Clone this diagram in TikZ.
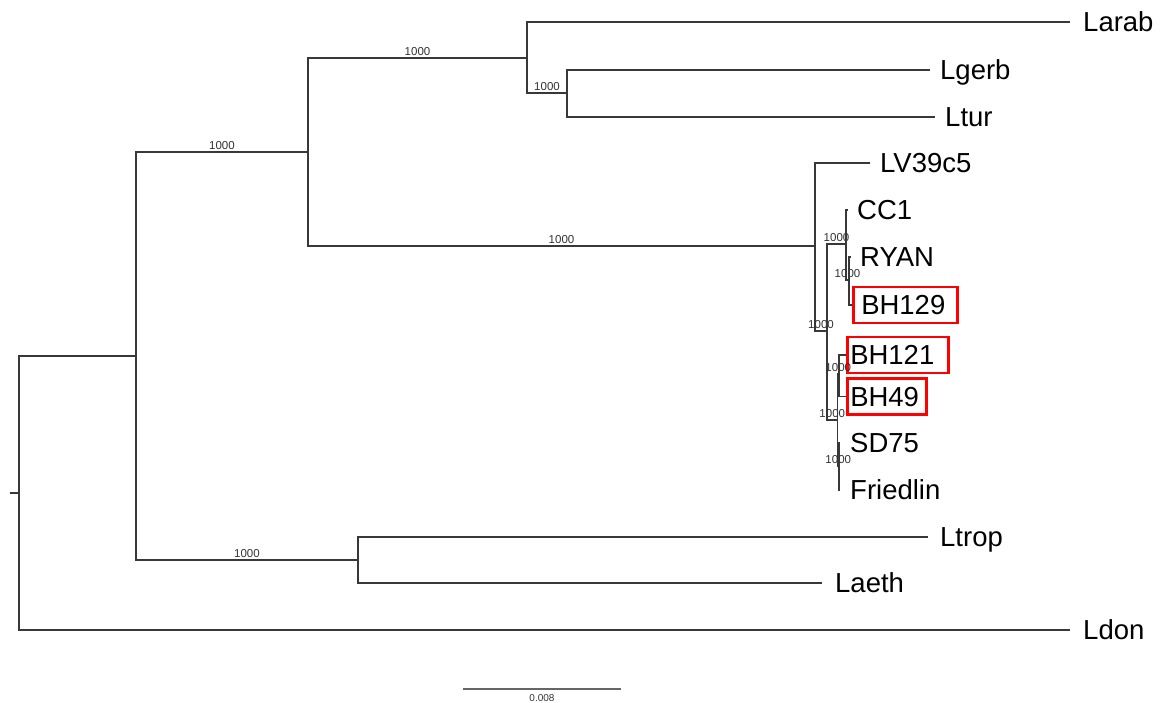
\documentclass[tikz,border=0pt]{standalone}
\usepackage{fontspec}
\setmainfont{Liberation Sans}
\usepackage{xcolor}
\usetikzlibrary{positioning}

\begin{document}
\begin{tikzpicture}[
  x=1pt, y=-1pt,
  br/.style={draw=black!78, line width=1.5pt},
  tip/.style={anchor=west, inner xsep=10pt, inner ysep=3pt,
              text height=19.6pt, text depth=0pt,
              font=\fontsize{27.5}{30}\selectfont},
  hit/.style={tip, draw=red, line width=2.5pt, inner xsep=3pt,
              inner ysep=8pt, align=left},
  boot/.style={above, inner sep=1.5pt, text=black!80,
               font=\fontsize{11.5}{12}\selectfont},
]
\useasboundingbox (0,0) rectangle (1165,702);

% ---------------- internal nodes ----------------
\coordinate (root) at (10,493);
\coordinate (nA) at (19,493);
\coordinate (nB) at (136,356);
\coordinate (nC) at (308,152);
\coordinate (nD) at (527,58);
\coordinate (nE) at (567,93);
\coordinate (nF) at (815,246);
\coordinate (nG) at (827,331);
\coordinate (nH) at (846,244);
\coordinate (nJ) at (849,280);
\coordinate (nI) at (837.5,420);
\coordinate (nL) at (839,374);
\coordinate (nM) at (839,466);
\coordinate (nN) at (358,560);

% ---------------- tips ----------------
\node[tip, inner xsep=13pt] (larab) at (1070,22) {Larab};
\node[tip] (lgerb) at (930,70) {Lgerb};
\node[tip] (ltur) at (935,117) {Ltur};
\node[tip] (lv39) at (870,163) {LV39c5};
\node[tip, inner xsep=9pt] (cc1) at (848,210) {CC1};
\node[tip, inner xsep=9pt] (ryan) at (851,257) {RYAN};
\node[hit, inner xsep=8pt, text width=88pt] (bh129) at (852,305) {BH129};
\node[hit, text width=95pt] (bh121) at (846,355) {BH121};
\node[hit, text width=73pt] (bh49) at (846,396.5) {BH49};
\node[tip] (sd75) at (840,443) {SD75};
\node[tip] (friedlin) at (840,490) {Friedlin};
\node[tip, inner xsep=12pt] (ltrop) at (928,537) {Ltrop};
\node[tip, inner xsep=13pt] (laeth) at (822,583) {Laeth};
\node[tip, inner xsep=13pt] (ldon) at (1070,630) {Ldon};

% ---------------- branches ----------------
\draw[br] (root) -- (nA);
\draw[br] (nA) |- (nB);
\draw[br] (nA) |- (ldon);
\draw[br] (nB) |- node[boot, pos=0.75] {1000} (nC);
\draw[br] (nB) |- node[boot, pos=0.75] {1000} (nN);
\draw[br] (nC) |- node[boot, pos=0.75] {1000} (nD);
\draw[br] (nC) |- node[boot, pos=0.75] {1000} (nF);
\draw[br] (nD) |- (larab);
\draw[br] (nD) |- node[boot, pos=0.75] {1000} (nE);
\draw[br] (nE) |- (lgerb);
\draw[br] (nE) |- (ltur);
\draw[br] (nN) |- (ltrop);
\draw[br] (nN) |- (laeth);

% dense clade
\draw[br] (nF) |- (lv39);
\draw[br] (nF) |- node[boot, pos=0.75] {1000} (nG);
\draw[br] (nG) |- node[boot, pos=0.75] {1000} (nH);
\draw[br] (nG) |- node[boot, pos=0.75] {1000} (nI);
\draw[br] (nH) |- (cc1);
\draw[br] (nH) |- node[boot, pos=0.75] {1000} (nJ);
\draw[br] (nJ) |- (ryan);
\draw[br] (nJ) |- (bh129.west);
\draw[br] (nI) |- node[boot, pos=0.75] {1000} (nL);
\draw[br] (nI) |- node[boot, pos=0.75] {1000} (nM);
\draw[br] (nL) |- (bh121.west);
\draw[br] (nL) |- (bh49.west);
\draw[br] (nM) |- (sd75);
\draw[br] (nM) |- (friedlin);

% ---------------- scale bar ----------------
\coordinate (sb1) at (463,689);
\coordinate (sb2) at (621,689);
\draw[draw=black!60, line width=1.2pt] (sb1) -- node[below, inner sep=5pt,
  font=\fontsize{10}{11}\selectfont, text=black!80] (sblab) {0.008} (sb2);
\end{tikzpicture}
\end{document}
